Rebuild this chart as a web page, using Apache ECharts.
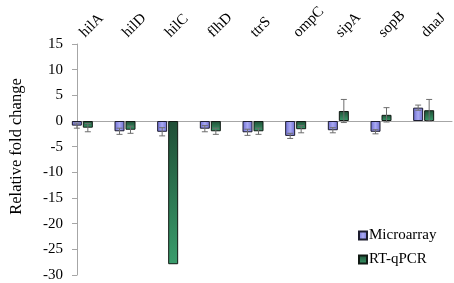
<!DOCTYPE html>
<html>
<head>
<meta charset="utf-8">
<script src="https://cdn.jsdelivr.net/npm/echarts@6/dist/echarts.min.js"></script>
<style>
  html, body { margin: 0; padding: 0; background: #fff; }
  #main { width: 454px; height: 283px; }
</style>
</head>
<body>
<div id="main"></div>
<script>
// genes and fold changes
const genes = ['hilA', 'hilD', 'hilC', 'flhD', 'ttrS', 'ompC', 'sipA', 'sopB', 'dnaJ'];
const microarray = [-0.9, -2.0, -2.1, -1.5, -2.2, -2.9, -1.8, -2.1, 2.6];
const microarrayErr = [0.5, 0.6, 0.8, 0.6, 0.6, 0.5, 0.5, 0.4, 0.5];
const qpcr = [-1.3, -1.7, -27.9, -2.0, -2.0, -1.6, 1.95, 1.2, 2.1];
const qpcrErr = [0.8, 0.7, 0, 0.6, 0.6, 0.7, 2.25, 1.4, 2.1];
const yTicks = [15, 10, 5, 0, -5, -10, -15, -20, -25, -30];

const font = 'Liberation Serif';
const barOffset = 5.5;

function errData(vals, errs) {
    return vals.map((v, i) => [i, v - errs[i], v + errs[i]]);
}

function errSeries(name, vals, errs, dx) {
    return {
        type: 'custom',
        name: name + ' err',
        xAxisIndex: 0,
        yAxisIndex: 0,
        z: 10,
        silent: true,
        data: errData(vals, errs),
        renderItem: function (params, api) {
            if (api.value(2) - api.value(1) === 0) return null;
            const lo = api.coord([api.value(0), api.value(1)]);
            const hi = api.coord([api.value(0), api.value(2)]);
            const x = lo[0] + dx;
            const style = { stroke: '#6e6e6e', lineWidth: 1 };
            return {
                type: 'group',
                children: [
                    { type: 'line', shape: { x1: x, y1: lo[1], x2: x, y2: hi[1] }, style: style },
                    { type: 'line', shape: { x1: x - 3, y1: lo[1], x2: x + 3, y2: lo[1] }, style: style },
                    { type: 'line', shape: { x1: x - 3, y1: hi[1], x2: x + 3, y2: hi[1] }, style: style }
                ]
            };
        }
    };
}

let chart = echarts.init(document.getElementById('main'));
chart.setOption({
    animation: false,
    textStyle: { fontFamily: font, color: '#000' },
    legend: {
        orient: 'vertical',
        left: 353,
        top: 223,
        icon: 'rect',
        itemWidth: 8,
        itemHeight: 8,
        itemGap: 9,
        textStyle: { fontFamily: font, fontSize: 15, color: '#000', padding: [0, 0, 0, -3] },
        data: ['Microarray', 'RT-qPCR']
    },
    grid: [
        { left: 61, right: 9, top: 44, bottom: 8 },
        { left: 72, right: 2, top: 44, bottom: 8 }
    ],
    xAxis: [
        {
            type: 'category',
            gridIndex: 0,
            position: 'top',
            data: genes,
            axisLine: { show: false },
            axisTick: { show: false },
            axisLabel: { rotate: 45, margin: 9, fontSize: 15, fontFamily: font, color: '#000' }
        },
        {
            type: 'value',
            gridIndex: 1,
            min: 0,
            max: 1,
            axisLine: { onZero: true, lineStyle: { color: '#a6a6a6', width: 1 } },
            axisTick: { show: false },
            axisLabel: { show: false },
            splitLine: { show: false }
        }
    ],
    yAxis: [
        {
            type: 'value',
            gridIndex: 0,
            min: -30,
            max: 15,
            interval: 5,
            show: false
        },
        {
            type: 'value',
            gridIndex: 1,
            min: -30,
            max: 15,
            interval: 5,
            name: 'Relative fold change',
            nameLocation: 'middle',
            nameGap: 52,
            nameTextStyle: { fontFamily: font, fontSize: 16.5, color: '#000', padding: [0, 0, 0, 26] },
            axisLine: { show: true, lineStyle: { color: '#a6a6a6' } },
            axisTick: { show: true, length: 5, lineStyle: { color: '#a6a6a6' } },
            axisLabel: {
                fontSize: 15, fontFamily: font, color: '#000', margin: 14,
                formatter: v => yTicks.includes(v) ? String(v) : ''
            },
            splitLine: { show: false }
        }
    ],
    series: [
        {
            name: 'Microarray',
            type: 'bar',
            xAxisIndex: 0,
            yAxisIndex: 0,
            barWidth: 10,
            barGap: '10%',
            data: microarray,
            itemStyle: {
                borderColor: '#1c1c2e',
                borderWidth: 1,
                color: new echarts.graphic.LinearGradient(0, 0, 1, 0, [
                    { offset: 0, color: '#6c6cd2' },
                    { offset: 0.5, color: '#a9a9f2' },
                    { offset: 1, color: '#6c6cd2' }
                ])
            }
        },
        {
            name: 'RT-qPCR',
            type: 'bar',
            xAxisIndex: 0,
            yAxisIndex: 0,
            barWidth: 10,
            barGap: '10%',
            data: qpcr,
            itemStyle: {
                borderColor: '#111a14',
                borderWidth: 1,
                color: new echarts.graphic.LinearGradient(0, 0, 0, 1, [
                    { offset: 0, color: '#1f4d35' },
                    { offset: 1, color: '#3a9d6c' }
                ])
            }
        },
        errSeries('Microarray', microarray, microarrayErr, -barOffset),
        errSeries('RT-qPCR', qpcr, qpcrErr, barOffset)
    ]
});
</script>
</body>
</html>
